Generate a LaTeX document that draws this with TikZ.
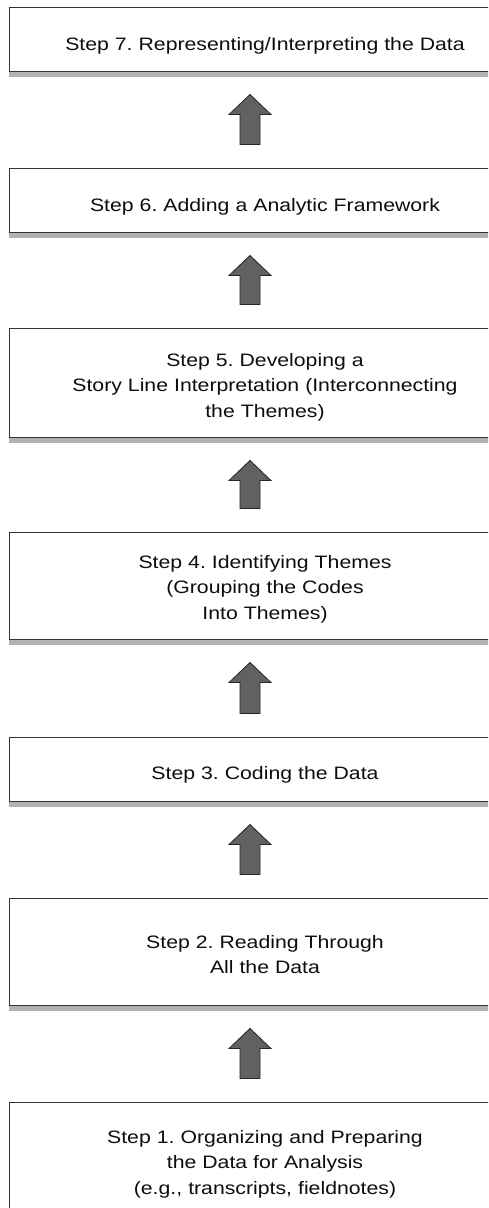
\documentclass[tikz,border=0pt]{standalone}
\usepackage{fontspec}
\setmainfont{Liberation Sans}[FakeStretch=1.18]
\usetikzlibrary{calc}
\begin{document}
\frenchspacing
\begin{tikzpicture}[x=1pt,y=-1pt,
  stepbox/.style={draw=black!80, line width=0.9pt, rectangle, minimum width=482pt, outer sep=0pt, inner sep=0pt},
  steptext/.style={anchor=base, inner sep=0pt, text width=480pt, align=center,
    font=\fontsize{18}{25.5}\selectfont\frenchspacing, text=black!95},
  shadestrip/.style={fill=black!30},
  blockarrow/.style={fill=black!62, draw=black!85, line width=0.8pt, line join=miter,
    to path={let \p1=(\tikztostart), \p2=(\tikztotarget) in
      (\x1-10pt,\y1+23.5pt) -- (\x1-10pt,\y2-43.5pt) -- (\x1-21pt,\y2-43.5pt) --
      (\x1,\y2-23.5pt) -- (\x1+21pt,\y2-43.5pt) -- (\x1+10pt,\y2-43.5pt) --
      (\x1+10pt,\y1+23.5pt) -- cycle}}
]
\useasboundingbox (0,0) rectangle (488,1208);
\clip (0,0) rectangle (488,1208);

% boxes
\node[stepbox, minimum height=64pt]  (b7) at (250,39) {};
\node[stepbox, minimum height=64pt]  (b6) at (250,200) {};
\node[stepbox, minimum height=109pt] (b5) at (250,382.5) {};
\node[stepbox, minimum height=107pt] (b4) at (250,585.5) {};
\node[stepbox, minimum height=64pt]  (b3) at (250,769) {};
\node[stepbox, minimum height=107pt] (b2) at (250,951.5) {};
\node[stepbox, minimum height=130pt] (b1) at (250,1167) {};

% shading strips under boxes
\foreach \b in {b7,b6,b5,b4,b3,b2}{
  \fill[shadestrip] ($(\b.south west)+(0,0.5)$) rectangle ($(\b.south east)+(0,5.5)$);
}

% texts
\node[steptext] (t7) at (265,50) {Step 7. Representing/Interpreting the Data};
\node[steptext] (t6) at (265,211) {Step 6. Adding a Analytic Framework};
\node[steptext] (t5) at (265,366) {Step 5. Developing a\\Story Line Interpretation (Interconnecting\\the Themes)};
\node[steptext] (t4) at (265,568) {Step 4. Identifying Themes\\(Grouping the Codes\\Into Themes)};
\node[steptext] (t3) at (265,779) {Step 3. Coding the Data};
\node[steptext] (t2) at (265,948) {Step 2. Reading Through\\All the Data};
\node[steptext] (t1) at (265,1143) {Step 1. Organizing and Preparing\\the Data for Analysis\\(e.g., transcripts, fieldnotes)};

% arrows
\draw[blockarrow] (b6.north) to (b7.south);
\draw[blockarrow] (b5.north) to (b6.south);
\draw[blockarrow] (b4.north) to (b5.south);
\draw[blockarrow] (b3.north) to (b4.south);
\draw[blockarrow] (b2.north) to (b3.south);
\draw[blockarrow] (b1.north) to (b2.south);
\end{tikzpicture}
\end{document}
